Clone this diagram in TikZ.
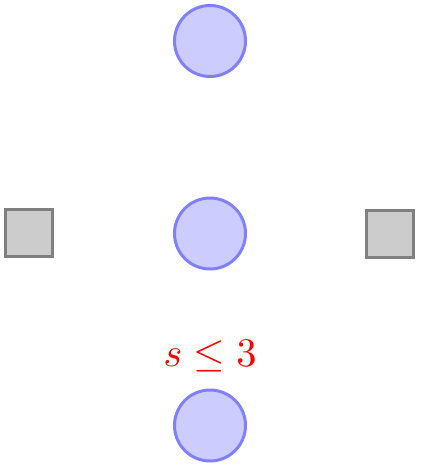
\documentclass[tikz,border=0pt]{standalone}
\begin{document}
\begin{tikzpicture}[x=1pt,y=-1pt,
  place/.style={circle,draw=blue!50,fill=blue!20,line width=3pt,minimum size=71pt,inner sep=0pt},
  transition/.style={rectangle,draw=black!50,fill=black!20,line width=3pt,minimum size=47pt,inner sep=0pt},
  lbl/.style={text=red,inner sep=0pt,scale=4.05,transform shape,anchor=base}]
\useasboundingbox (0,0) rectangle (420,468);
\node[place] (p1) at (210,41) {};
\node[place] (p2) at (210,233.5) {};
\node[place] (p3) at (210,425.5) {};
\node[transition] (t1) at (29,233) {};
\node[transition] (t2) at (390,233.5) {};
\node[lbl] (c) at (210,366.5) {$s \leq 3$};
\end{tikzpicture}
\end{document}
